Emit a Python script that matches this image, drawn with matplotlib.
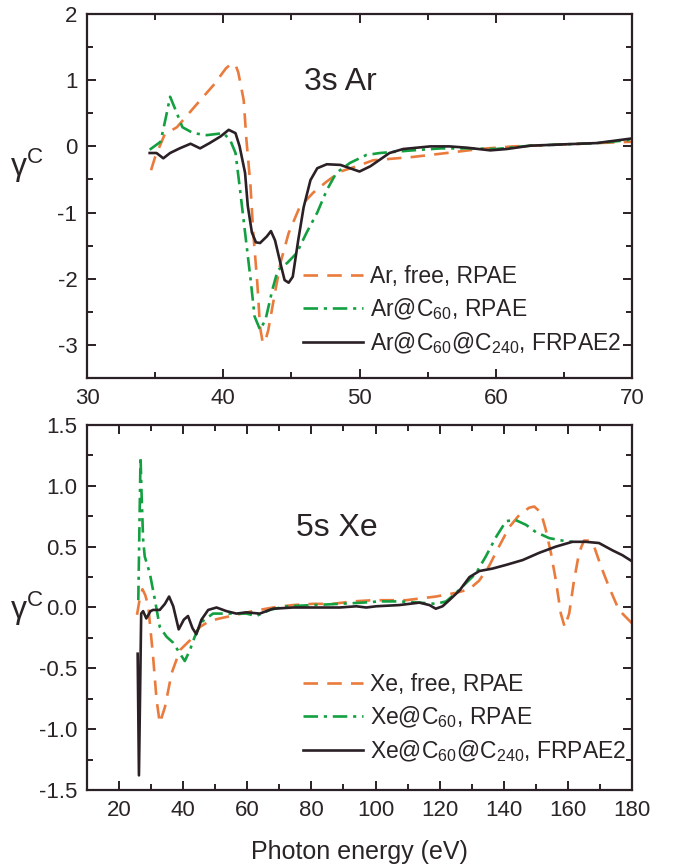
import matplotlib
matplotlib.use("Agg")
import matplotlib.pyplot as plt
from matplotlib.ticker import MultipleLocator, FixedLocator, FuncFormatter

plt.rcParams['font.family'] = ['Liberation Sans', 'DejaVu Sans']
plt.rcParams['mathtext.fontset'] = 'custom'
plt.rcParams['mathtext.rm'] = 'Liberation Sans'
plt.rcParams['mathtext.it'] = 'Liberation Sans:italic'
plt.rcParams['mathtext.bf'] = 'Liberation Sans:bold'

TXT = '#2a2426'
ORANGE = '#EA7B3C'
GREEN = '#13A040'
BLACK = '#2a2025'

# ---------------- 3s Ar data ----------------
ar_free_x = [34.7, 35.0, 35.7, 36.6, 37.9, 39.3, 40.2, 40.6, 40.9, 41.1, 41.5, 41.7, 42.0, 42.2, 42.5,
             42.7, 42.9, 43.1, 43.3, 43.7, 44.2, 44.8, 45.6, 46.6, 47.6, 48.6, 49.8, 51.0, 53.9, 56.4,
             58.8, 61.3, 63.8, 66.2, 70.0]
ar_free_y = [-0.36, -0.16, 0.18, 0.29, 0.60, 0.93, 1.18, 1.25, 1.23, 1.12, 0.70, 0.10, -0.60, -1.30, -2.07,
             -2.73, -2.97, -2.93, -2.78, -2.32, -1.76, -1.31, -0.92, -0.70, -0.53, -0.38, -0.30, -0.21, -0.16, -0.10,
             -0.04, 0.00, 0.02, 0.04, 0.07]

ar_c60_x = [34.6, 35.4, 35.8, 36.1, 36.5, 37.0, 37.8, 38.8, 40.0, 40.5, 40.9, 41.2, 41.6, 42.0, 42.3,
            42.7, 43.1, 43.6, 44.0, 44.7, 45.4, 46.1, 46.9, 47.6, 48.3, 49.3, 50.5, 51.5, 53.9, 56.0,
            58.0, 60.0, 62.5, 65.0, 67.5, 70.0]
ar_c60_y = [-0.05, 0.07, 0.45, 0.75, 0.55, 0.29, 0.20, 0.17, 0.20, 0.10, -0.10, -0.60, -1.30, -2.00, -2.57,
            -2.77, -2.62, -2.17, -1.87, -1.76, -1.61, -1.31, -1.00, -0.66, -0.40, -0.25, -0.13, -0.10, -0.06, -0.03,
            -0.03, -0.04, 0.01, 0.03, 0.05, 0.10]

ar_c240_x = [34.6, 35.1, 35.6, 36.1, 36.8, 37.6, 38.3, 39.0, 39.8, 40.4, 40.9, 41.2, 41.6, 41.8, 42.1,
             42.4, 42.7, 43.0, 43.2, 43.5, 43.8, 44.2, 44.5, 44.8, 45.1, 45.5, 45.9, 46.4, 46.9, 47.6,
             48.6, 49.3, 50.0, 50.8, 51.5, 52.2, 53.2, 55.2, 56.6, 57.9, 59.6, 60.8, 62.5, 64.9, 67.4, 70.0]
ar_c240_y = [-0.10, -0.10, -0.18, -0.10, -0.03, 0.04, -0.03, 0.05, 0.15, 0.25, 0.20, 0.00, -0.40, -0.90, -1.30,
             -1.45, -1.46, -1.40, -1.36, -1.28, -1.42, -1.77, -2.02, -2.06, -1.97, -1.42, -0.92, -0.51, -0.33, -0.27,
             -0.28, -0.33, -0.38, -0.30, -0.20, -0.10, -0.04, 0.00, 0.00, -0.02, -0.06, -0.04, 0.01, 0.03, 0.05, 0.12]

# ---------------- 5s Xe data ----------------
xe_free_x = [25.6, 26.5, 27.3, 28.2, 29.1, 30.6, 31.7, 32.7, 34.3, 36.4, 39.0, 42.1, 45.2, 48.3, 51.4,
             56.6, 61.7, 68.0, 74.2, 80.4, 86.6, 92.9, 99.1, 109.5, 118.8, 125.0, 129.2, 132.3, 135.4, 138.5,
             141.7, 144.8, 147.9, 149.5, 151.6, 153.1, 154.7, 156.2, 157.8, 159.0, 160.4, 161.9, 163.5, 165.0,
             166.6, 168.2, 170.3, 172.8, 175.9, 180.0]
xe_free_y = [-0.06, 0.08, 0.15, 0.10, 0.01, -0.40, -0.76, -0.95, -0.82, -0.54, -0.35, -0.27, -0.16, -0.11, -0.09,
             -0.06, -0.03, 0.00, 0.02, 0.03, 0.03, 0.05, 0.06, 0.06, 0.09, 0.12, 0.15, 0.22, 0.34, 0.50,
             0.66, 0.76, 0.82, 0.83, 0.78, 0.64, 0.45, 0.23, -0.05, -0.16, -0.05, 0.22, 0.45, 0.55,
             0.55, 0.50, 0.34, 0.17, -0.02, -0.13]

xe_c60_x = [26.0, 26.4, 26.7, 27.0, 27.5, 28.0, 29.6, 31.2, 32.7, 34.8, 36.9, 39.0, 40.5,
            42.1, 43.6, 45.7, 49.3, 54.5, 59.7, 62.8, 67.0, 72.2, 80.5, 88.8, 96.0, 101.2, 107.4,
            113.7, 118.8, 122.0, 125.1, 128.2, 131.3, 134.4, 137.6, 140.7, 143.6, 146.9, 150.0, 154.2, 158.3, 161.4]
xe_c60_y = [0.06, 0.75, 1.24, 0.95, 0.56, 0.42, 0.28, 0.06, -0.16, -0.24, -0.29, -0.38, -0.44,
            -0.35, -0.24, -0.12, -0.05, -0.05, -0.05, -0.07, -0.02, 0.01, 0.02, 0.03, 0.04, 0.05, 0.05,
            0.04, 0.03, 0.05, 0.12, 0.20, 0.28, 0.42, 0.58, 0.71, 0.72, 0.68, 0.62, 0.57, 0.55, 0.54]

xe_c240_x = [25.8, 26.2, 26.9, 27.5, 28.5, 29.8, 30.6, 32.7, 34.3, 35.6, 36.9, 38.6, 40.2, 41.5,
             42.9, 44.1, 45.7, 47.8, 50.4, 53.5, 56.6, 59.7, 63.9, 68.0, 74.2, 80.5, 88.8, 94.0, 97.1,
             100.2, 107.4, 113.7, 116.8, 118.8, 120.9, 123.0, 126.2, 129.3, 132.4, 136.5, 140.7, 145.9, 151.1,
             156.2, 161.4, 165.6, 169.7, 173.9, 177.0, 180.0]
xe_c240_y = [-0.38, -1.38, -0.05, -0.03, -0.09, -0.03, -0.02, -0.02, 0.03, 0.09, 0.01, -0.18, -0.10, -0.07,
             -0.17, -0.22, -0.10, -0.02, 0.00, -0.03, -0.05, -0.04, -0.05, -0.01, 0.00, 0.00, 0.00, 0.01, 0.00,
             0.01, 0.02, 0.04, 0.02, -0.01, 0.01, 0.06, 0.14, 0.25, 0.30, 0.32, 0.35, 0.39, 0.45,
             0.50, 0.54, 0.54, 0.53, 0.47, 0.43, 0.38]

ar_labels = ["Ar, free, RPAE", "Ar@C$_{60}$, RPAE", "Ar@C$_{60}$@C$_{240}$, FRPAE2"]
xe_labels = ["Xe, free, RPAE", "Xe@C$_{60}$, RPAE", "Xe@C$_{60}$@C$_{240}$, FRPAE2"]

fig = plt.figure(figsize=(6.75, 8.66), dpi=100)
ax1 = fig.add_axes([0.1289, 0.5635, 0.8074, 0.4203])
ax2 = fig.add_axes([0.1289, 0.0878, 0.8074, 0.4214])

styles = [dict(color=ORANGE, ls=(0, (5.5, 3.5)), lw=1.9),
          dict(color=GREEN, ls=(0, (5.5, 2.2, 1.2, 2.2)), lw=1.9),
          dict(color=BLACK, ls='-', lw=1.9)]

for ax, data, labels in [
    (ax1, [(ar_free_x, ar_free_y), (ar_c60_x, ar_c60_y), (ar_c240_x, ar_c240_y)], ar_labels),
    (ax2, [(xe_free_x, xe_free_y), (xe_c60_x, xe_c60_y), (xe_c240_x, xe_c240_y)], xe_labels),
]:
    for (x, y), st, lab in zip(data, styles, labels):
        ax.plot(x, y, label=lab, solid_joinstyle='round', dash_capstyle='butt', **st)

# axes 1
ax1.set_xlim(30, 70)
ax1.set_ylim(-3.5, 2)
ax1.xaxis.set_major_locator(MultipleLocator(10))
ax1.xaxis.set_minor_locator(MultipleLocator(5))
ax1.yaxis.set_major_locator(MultipleLocator(1))
ax1.yaxis.set_minor_locator(MultipleLocator(0.5))
ax1.yaxis.set_major_formatter(FuncFormatter(lambda v, p: "%d" % round(v)))
ax1.text(0.464, 0.813, "3s Ar", transform=ax1.transAxes, ha='center', va='center', fontsize=23, color=TXT)

# axes 2
ax2.set_xlim(10, 180)
ax2.set_ylim(-1.5, 1.5)
ax2.xaxis.set_major_locator(FixedLocator([20, 40, 60, 80, 100, 120, 140, 160, 180]))
ax2.xaxis.set_minor_locator(MultipleLocator(10))
ax2.yaxis.set_major_locator(MultipleLocator(0.5))
ax2.yaxis.set_minor_locator(MultipleLocator(0.25))
ax2.yaxis.set_major_formatter(FuncFormatter(lambda v, p: "%.1f" % (0.0 if abs(v) < 1e-9 else v)))
ax2.text(0.459, 0.718, "5s Xe", transform=ax2.transAxes, ha='center', va='center', fontsize=23, color=TXT)
ax2.set_xlabel("Photon energy (eV)", fontsize=18, color=TXT, labelpad=14)

for ax, ylab_y, leg_y in [(ax1, 0.53, 0.185), (ax2, 0.444, 0.195)]:
    for s in ax.spines.values():
        s.set_linewidth(1.6)
        s.set_color(BLACK)
    ax.tick_params(which='both', direction='in', top=True, right=True, width=1.4, color=BLACK,
                   labelsize=16, labelcolor=TXT)
    ax.tick_params(which='major', length=6.5, pad=7)
    ax.tick_params(which='minor', length=4.5)
    ax.set_ylabel("\u03b3$^{\\mathrm{C}}$", rotation=0, fontsize=23, color=TXT)
    ax.yaxis.set_label_coords(-0.11, ylab_y)
    leg = ax.legend(loc='center left', bbox_to_anchor=(0.397, leg_y),
                    frameon=False, fontsize=16.5, handlelength=2.6, handletextpad=0.3,
                    labelspacing=0.35, borderpad=0, borderaxespad=0)
    for t in leg.get_texts():
        t.set_color(TXT)

fig.savefig("out.png", dpi=100)
